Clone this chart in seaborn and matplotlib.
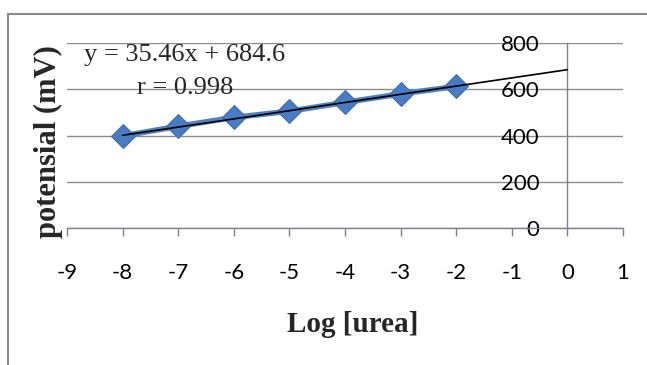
import matplotlib
matplotlib.use("Agg")
import matplotlib.pyplot as plt
import seaborn as sns
import pandas as pd
import numpy as np
from matplotlib.patches import Rectangle

# Calibration data: electrode potential vs log urea concentration
log_urea = [-8, -7, -6, -5, -4, -3, -2]
potential_mv = [398, 440, 478, 505, 543, 580, 612]

# Linear fit reported on the chart
slope = 35.46
intercept = 684.6
r_value = 0.998
fit_x = [-8, 0]

x_ticks = [-9, -8, -7, -6, -5, -4, -3, -2, -1, 0, 1]
y_ticks = [0, 200, 400, 600, 800]

sns.set_theme(style="white")
plt.rcParams["font.family"] = ["Lato", "DejaVu Sans"]

fig = plt.figure(figsize=(6.47, 3.65), dpi=100)
ax = fig.add_axes([67 / 647, 1 - 228 / 365, 556 / 647, 185 / 365])

df = pd.DataFrame({"log_urea": log_urea, "potential": potential_mv})
sns.lineplot(data=df, x="log_urea", y="potential", ax=ax, color="#4F81BD",
             linewidth=4, marker="D", markersize=12,
             markerfacecolor="#4A7CC4", markeredgecolor="#3B6AB0", zorder=3)

fx = np.array(fit_x, dtype=float)
ax.plot(fx, slope * fx + intercept, color="black", linewidth=1.2, zorder=4)

ax.set_xlim(-9, 1)
ax.set_ylim(0, 800)
ax.set_xticks(x_ticks)
ax.set_yticks(y_ticks)
ax.set_xticklabels([str(v) for v in x_ticks])
ax.set_yticklabels([str(v) for v in y_ticks])

ax.grid(axis="y", color="#8c8c8c", linewidth=1.0)
ax.set_axisbelow(True)
for s in ["top", "right"]:
    ax.spines[s].set_visible(False)
ax.spines["left"].set_position(("data", 0))
ax.spines["left"].set_color("#808090")
ax.spines["bottom"].set_color("#808090")
ax.spines["left"].set_linewidth(1.0)
ax.spines["bottom"].set_linewidth(1.0)

ax.tick_params(axis="x", bottom=True, direction="out", length=6, width=1,
               color="#808090", pad=19, labelsize=16, labelcolor="black")
ax.tick_params(axis="y", left=False, length=0, pad=20, labelsize=16,
               labelcolor="black")
ax.set_xlabel("")
ax.set_ylabel("")

serif = ["Liberation Serif", "DejaVu Serif"]
fig.text(353 / 647, 1 - 325 / 365, "Log [urea]", ha="center", va="center",
         fontsize=21, fontweight="bold", family=serif)
fig.text(48 / 647, 1 - 142 / 365, "potensial (mV)", ha="center", va="center",
         rotation=90, fontsize=22, fontweight="bold", family=serif)
fig.text(84 / 647, 1 - 55 / 365, f"y = {slope}x + {intercept}", ha="left",
         va="center", fontsize=19, family=serif)
fig.text(137 / 647, 1 - 88 / 365, f"r = {r_value}", ha="left",
         va="center", fontsize=19, family=serif)

# chart area border
fig.add_artist(Rectangle((8 / 647, -0.05), 1.0, 1 - 14 / 365 + 0.05,
                         transform=fig.transFigure, fill=False,
                         edgecolor="#8a8a8a", linewidth=1.5))

fig.savefig("out.png", dpi=100)
